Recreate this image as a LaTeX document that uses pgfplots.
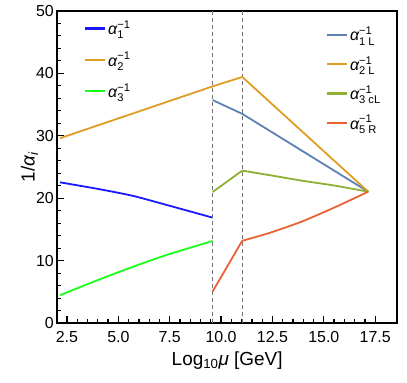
\documentclass[border=0pt]{standalone}
\usepackage{pgfplots}
\pgfplotsset{compat=1.18}
\usepackage{amsmath}
\usepackage{fontspec}
\setmainfont{Liberation Sans}
\definecolor{cA}{rgb}{0.1,0.1,1}
\definecolor{cB}{HTML}{E19C24}
\definecolor{cC}{rgb}{0.1,1,0.1}
\definecolor{cD}{HTML}{5E81B5}
\definecolor{cE}{HTML}{8FB032}
\definecolor{cF}{HTML}{EB6235}
\newcommand{\al}{\textit{α}}
\begin{document}
\begin{tikzpicture}
\useasboundingbox (-57.3bp,-59.7bp) rectangle (349.7bp,323.3bp);
\pgfplotsset{
  base/.style={
    scale only axis, width=339.7bp, height=312.6bp,
    at={(0,0)}, anchor=south west,
    xmin=2.03, xmax=18.56, ymin=0, ymax=50,
    legend cell align=left,
    legend image code/.code={\draw[##1, line width=2.2bp] (0bp,0bp) -- (20bp,0bp);},
  },
}
\begin{axis}[base,
  axis line style={line width=1.7bp},
  xtick={2.5,5,7.5,10,12.5,15,17.5},
  xticklabels={2.5,5.0,7.5,10.0,12.5,15.0,17.5},
  ytick={0,10,20,30,40,50},
  minor x tick num=4, minor y tick num=4,
  tick align=inside, xtick pos=bottom, ytick pos=left,
  major tick length=7bp, minor tick length=4bp,
  tick style={line width=1.3bp, black},
  ticklabel style={font=\fontsize{16}{18}\selectfont},
  xticklabel style={yshift=-5bp},
  /pgf/number format/assume math mode=true,
  xlabel={Log\textsubscript{10}\textit{μ} [GeV]},
  ylabel={1/\textit{α}\textsubscript{\textit{i}}},
  xlabel shift=2bp, ylabel shift=-9bp,
  label style={font=\fontsize{19}{21}\selectfont},
  legend style={draw=none, fill=none, at={(0.078,0.975)}, anchor=north west,
    font=\fontsize{16}{18}\selectfont, row sep=12bp, inner sep=0pt},
]
\addplot[cA, line width=1.8bp, smooth, tension=0.4] coordinates {(2.16,22.55) (4.10,21.44) (5.73,20.37) (7.35,18.93) (9.59,16.9)};
\addlegendentry{$\al^{\text{−1}}_{\text{1}}$}
\addplot[cB, line width=1.8bp] coordinates {(2.16,29.6) (9.59,37.9)};
\addlegendentry{$\al^{\text{−1}}_{\text{2}}$}
\addplot[cC, line width=1.8bp, smooth, tension=0.4] coordinates {(2.16,4.5) (4.10,7.04) (5.73,9.06) (7.35,10.93) (9.59,13.17)};
\addlegendentry{$\al^{\text{−1}}_{\text{3}}$}
\addplot[black!55, dash pattern=on 4bp off 3bp, line width=0.9bp, forget plot] coordinates {(9.59,0) (9.59,50)};
\addplot[black!55, dash pattern=on 4bp off 3bp, line width=0.9bp, forget plot] coordinates {(11.03,0) (11.03,50)};
\end{axis}
\begin{axis}[base, hide axis,
  legend style={draw=none, fill=none, at={(0.79,0.955)}, anchor=north west,
    font=\fontsize{16}{18}\selectfont, row sep=10bp, inner sep=0pt},
]
\addplot[cD, line width=1.8bp] coordinates {(9.59,35.7) (11.03,33.5) (17.16,21.05)};
\addlegendentry{$\al^{\text{−1}}_{\text{1 L}}$}
\addplot[cB, line width=1.8bp] coordinates {(9.59,37.9) (11.03,39.4) (17.16,21.05)};
\addlegendentry{$\al^{\text{−1}}_{\text{2 L}}$}
\addplot[cE, line width=1.8bp, smooth, tension=0.4] coordinates {(11.03,24.42) (12.30,23.73) (13.92,22.82) (15.54,22.02) (17.16,21.05)};
\addlegendentry{$\al^{\text{−1}}_{\text{3 cL}}$}
\addplot[cF, line width=1.8bp, smooth, tension=0.4] coordinates {(11.03,13.2) (12.30,14.4) (13.92,16.26) (15.54,18.56) (17.16,21.05)};
\addlegendentry{$\al^{\text{−1}}_{\text{5 R}}$}
\addplot[cE, line width=1.8bp, forget plot] coordinates {(9.59,21.0) (11.03,24.42)};
\addplot[cF, line width=1.8bp, forget plot] coordinates {(9.59,5.1) (11.03,13.2)};
\end{axis}
\end{tikzpicture}
\end{document}
